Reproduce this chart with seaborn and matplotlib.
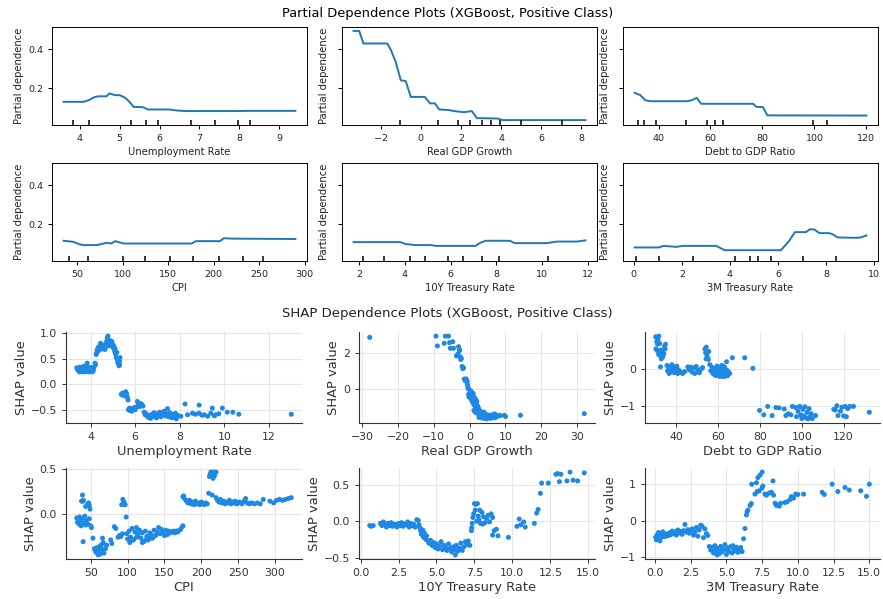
import numpy as np
import pandas as pd
import matplotlib
matplotlib.use("Agg")
import matplotlib.pyplot as plt
import matplotlib.transforms as mtransforms
import seaborn as sns

# ---------------- PDP data ----------------
pdp_features = ["Unemployment Rate", "Real GDP Growth", "Debt to GDP Ratio",
                "CPI", "10Y Treasury Rate", "3M Treasury Rate"]

unemp_x = [3.6, 4.1, 4.23, 4.35, 4.46, 4.67, 4.75, 4.88, 5.0, 5.13, 5.25, 5.35, 5.58, 5.71,
           6.25, 6.42, 6.67, 7.83, 8.25, 9.4]
unemp_y = [0.132, 0.132, 0.140, 0.154, 0.160, 0.160, 0.175, 0.166, 0.166, 0.154, 0.132, 0.106,
           0.105, 0.093, 0.093, 0.088, 0.085, 0.085, 0.086, 0.086]
unemp_dec = [3.835, 4.24, 5.29, 5.67, 5.97, 6.78, 7.39, 7.97, 8.27]

gdp_x = [-3.35, -3.07, -2.86, -1.67, -1.5, -1.25, -1.0, -0.75, -0.5, 0.2, 0.46, 0.71, 0.91,
         1.4, 1.65, 2.15, 2.54, 2.79, 3.82, 4.07, 8.2]
gdp_y = [0.493, 0.493, 0.429, 0.429, 0.398, 0.335, 0.242, 0.237, 0.157, 0.157, 0.124, 0.124,
         0.093, 0.090, 0.085, 0.079, 0.085, 0.049, 0.047, 0.039, 0.039]
gdp_dec = [-1.03, 0.88, 1.83, 2.44, 3.07, 3.51, 3.95, 4.98, 7.05]

debt_x = [30.8, 33.0, 34.9, 36.8, 50.9, 52.8, 54.7, 56.4, 76.4, 77.7, 80.2, 81.9, 120.0]
debt_y = [0.178, 0.166, 0.140, 0.135, 0.135, 0.140, 0.152, 0.122, 0.122, 0.106, 0.105, 0.063, 0.062]
debt_dec = [32.3, 34.6, 39.0, 50.6, 58.8, 61.7, 64.7, 99.6, 104.7]

cpi_x = [35.3, 45.6, 53.6, 57.3, 71.9, 82.9, 87.6, 92.0, 101.0, 175.8, 180.6, 206.9, 211.3,
         219.7, 289.9]
cpi_y = [0.117, 0.112, 0.098, 0.095, 0.095, 0.107, 0.103, 0.115, 0.103, 0.103, 0.115, 0.115,
         0.130, 0.128, 0.126]
cpi_dec = [40.8, 61.6, 101.0, 124.5, 152.5, 177.1, 206.2, 231.8, 254.4]

t10_x = [1.76, 3.82, 4.04, 4.48, 5.13, 5.35, 7.1, 7.27, 7.53, 8.59, 8.81, 10.22, 10.66, 11.53, 11.9]
t10_y = [0.110, 0.110, 0.100, 0.095, 0.095, 0.091, 0.091, 0.105, 0.117, 0.117, 0.105, 0.105,
         0.113, 0.113, 0.119]
t10_dec = [2.17, 3.09, 4.22, 4.88, 5.90, 6.54, 7.36, 8.13, 10.27]

t3_x = [0.03, 1.04, 1.23, 1.76, 2.04, 3.42, 3.56, 3.77, 6.12, 6.47, 6.70, 7.16, 7.33, 7.52,
        7.72, 8.13, 8.27, 8.48, 9.24, 9.45, 9.68]
t3_y = [0.083, 0.083, 0.091, 0.086, 0.091, 0.091, 0.083, 0.069, 0.069, 0.117, 0.161, 0.161,
        0.176, 0.174, 0.156, 0.156, 0.150, 0.134, 0.132, 0.134, 0.144]
t3_dec = [0.1, 1.04, 2.48, 4.21, 4.84, 5.15, 5.71, 7.02, 8.41]

pdp_x = [unemp_x, gdp_x, debt_x, cpi_x, t10_x, t3_x]
pdp_y = [unemp_y, gdp_y, debt_y, cpi_y, t10_y, t3_y]
pdp_dec = [unemp_dec, gdp_dec, debt_dec, cpi_dec, t10_dec, t3_dec]

# ---------------- SHAP data ----------------
shap_unemp_x = [3.38, 3.42, 3.45, 3.48, 3.5, 3.53, 3.55, 3.58, 3.6, 3.62, 3.65, 3.68, 3.7, 3.72,
                3.75, 3.78, 3.8, 3.82, 3.85, 3.85, 3.88, 3.9, 3.92, 3.95, 3.97, 4.0, 4.02, 4.05,
                4.08, 4.1, 4.12, 4.15, 3.5, 3.7, 3.6, 3.9, 4.0,
                4.2, 4.22, 4.25, 4.28, 4.3, 4.35, 4.38, 4.42, 4.45, 4.48, 4.52, 4.55, 4.58, 4.62,
                4.65, 4.68, 4.7, 4.72, 4.75, 4.78, 4.8, 4.82, 4.85, 4.88, 4.9, 4.93, 4.96, 5.0,
                5.02, 5.05, 5.08, 5.1, 5.12, 5.15, 5.18, 5.2, 5.22, 5.25, 5.28, 5.3, 5.32, 5.3,
                5.38, 5.42, 5.45, 5.5, 5.55, 5.58, 5.62, 5.65, 5.68, 5.7, 5.74, 5.78, 5.82, 5.85,
                5.9, 5.95, 6.0, 6.05, 6.1, 6.15, 6.2, 6.25, 6.3, 6.35, 6.4, 6.45, 6.5, 6.55, 6.6,
                6.65, 6.7, 6.75, 6.8, 6.85, 6.9, 6.95, 7.0, 7.05, 7.1, 7.15, 7.2, 7.25, 7.3, 7.35,
                7.4, 7.45, 7.5, 7.55, 7.6, 7.65, 7.7, 7.75, 7.8, 7.85, 7.9, 8.05, 8.24, 8.35, 8.57,
                8.7, 8.87, 8.87, 9.0, 9.1, 9.25, 9.39, 9.46, 9.55, 9.61, 9.75, 9.91, 10.13, 10.38,
                10.65, 13.0]
shap_unemp_y = [0.32, 0.28, 0.30, 0.26, 0.33, 0.29, 0.25, 0.31, 0.27, 0.24, 0.30, 0.33, 0.26, 0.29,
                0.24, 0.31, 0.27, 0.35, 0.41, 0.25, 0.29, 0.32, 0.24, 0.27, 0.30, 0.25, 0.33, 0.28,
                0.24, 0.30, 0.26, 0.32, 0.24, 0.35, 0.33, 0.26, 0.31,
                0.41, 0.38, 0.58, 0.62, 0.68, 0.72, 0.66, 0.75, 0.80, 0.70, 0.73, 0.69, 0.76, 0.72,
                0.68, 0.78, 0.74, 0.84, 0.91, 0.94, 0.87, 0.80, 0.75, 0.82, 0.85, 0.78, 0.83, 0.77,
                0.71, 0.74, 0.64, 0.69, 0.59, 0.52, 0.62, 0.48, 0.42, 0.40, 0.36, 0.45, 0.52, 0.38,
                -0.20, -0.18, -0.22, -0.17, -0.23, -0.15, -0.19, -0.26, -0.31, -0.50, -0.47, -0.52,
                -0.49, -0.53, -0.48, -0.46, -0.50, -0.45, -0.34, -0.41, -0.44, -0.38, -0.40, -0.43,
                -0.55, -0.60, -0.58, -0.63, -0.65, -0.61, -0.67, -0.59, -0.63, -0.56, -0.61, -0.66,
                -0.58, -0.62, -0.55, -0.64, -0.60, -0.57, -0.53, -0.62, -0.58, -0.48, -0.64, -0.56,
                -0.61, -0.66, -0.59, -0.63, -0.57, -0.68, -0.61, -0.63, -0.39, -0.60, -0.57, -0.59,
                -0.57, -0.41, -0.61, -0.60, -0.63, -0.57, -0.47, -0.62, -0.60, -0.58, -0.47, -0.55,
                -0.55, -0.59, -0.59]

shap_gdp_x = [-27.9, -9.4, -9.0, -6.8, -5.9, -7.1, -5.6, -4.7, -5.4, -4.5, -3.1, -2.9, -2.8, -3.7,
              -3.3, -2.6, -2.5, -2.3, -2.1, -1.9, -1.7, -1.5, -1.2, -0.9, -0.7, -1.0, -0.6, -0.5,
              -0.4, -0.3, -0.2, 0.0, 0.2, 0.4, 0.5, 0.6, 0.7, 0.8, 0.9, 1.0, 1.1, 1.2, 1.3, 1.4,
              1.5, 1.6, 1.7, 1.8, 1.9, 2.0, 2.1, 2.2, 2.3, 2.4, 2.5, 2.6, 2.8, 3.0, 3.2, 3.4, 3.6,
              3.8, 4.0, 4.2, 4.4, 4.6, 4.8, 5.0, 5.3, 5.6, 5.9, 6.2, 6.5, 6.8, 7.1, 7.4, 7.7, 8.2,
              8.6, 9.7, 10.0, 14.2, 32.0, 1.2, 2.6, 1.5, 3.0, 4.0, 0.3, 1.0, 2.0, 2.9, 3.5, 5.5,
              6.0, 7.0]
shap_gdp_y = [2.89, 2.96, 2.41, 2.96, 2.96, 2.56, 2.60, 2.65, 2.28, 2.28, 2.37, 2.20, 2.15, 1.85,
              1.95, 1.80, 1.65, 1.70, 1.26, 1.13, 1.18, 0.55, 0.45, 0.50, 0.43, 0.56, 0.24, 0.10,
              0.00, -0.30, -0.45, -0.35, -0.50, -0.22, -0.60, -0.40, -0.70, -0.30, -0.55, -0.80,
              -0.45, -0.65, -0.90, -0.50, -0.75, -1.00, -0.60, -0.85, -1.10, -0.70, -1.20, -0.95,
              -1.30, -1.05, -1.40, -1.15, -1.50, -1.25, -1.60, -1.35, -1.55, -1.45, -1.65, -1.40,
              -1.60, -1.50, -1.68, -1.45, -1.60, -1.50, -1.65, -1.45, -1.58, -1.50, -1.62, -1.48,
              -1.55, -1.50, -1.50, -1.48, -1.55, -1.48, -1.39, -1.20, -1.60, -1.30, -1.55, -1.30,
              -0.10, -0.25, -1.35, -1.45, -1.62, -1.55, -1.58, -1.40]

shap_debt_x = [30.1, 31.6, 31.2, 30.6, 32.0, 31.0, 30.2, 30.9, 31.8, 32.5, 33.2, 34.0, 34.6, 34.3,
               34.8, 32.2, 33.5, 32.8, 31.5, 32.4,
               35.5, 35.8, 36.2, 36.5, 37.0, 37.3, 37.8, 38.2, 38.6, 39.0, 39.4, 39.8, 40.2, 40.6,
               41.0, 41.5, 42.0, 43.0, 44.0,
               45.5, 46.2, 47.0, 47.5, 48.2, 48.8, 49.5, 50.2, 51.0, 51.8, 52.5,
               53.7, 54.0, 54.3, 54.6, 55.0, 55.3, 54.2, 55.5, 56.0,
               56.5, 57.0, 57.5, 58.0, 58.5, 59.0, 59.5, 60.0, 60.5, 61.0, 61.5, 62.0, 62.5, 63.0,
               63.5, 64.0, 64.5, 65.0, 65.5, 58.2, 60.8, 63.2, 61.8, 64.0, 66.8, 72.7, 76.6,
               79.8, 81.8, 83.7, 85.8, 87.6, 89.2, 91.6, 92.4, 93.5, 94.8, 95.5, 97.0, 97.5, 98.2,
               99.0, 99.5, 100.0, 100.5, 101.0, 101.5, 102.0, 102.5, 103.0, 103.5, 104.0, 104.5,
               105.0, 106.6, 115.3, 116.0, 116.8, 117.3, 118.5, 119.2, 120.0, 120.8, 121.3, 122.0,
               123.0, 124.7, 132.3]
shap_debt_y = [0.88, 0.90, 0.80, 0.75, 0.70, 0.68, 0.55, 0.50, 0.45, 0.52, 0.48, 0.42, 0.55, 0.62,
               0.68, 0.37, 0.33, 0.28, 0.40, 0.06,
               0.10, -0.05, 0.05, -0.12, 0.02, -0.08, 0.12, -0.03, 0.06, -0.10, 0.00, -0.06, 0.08,
               -0.12, -0.02, -0.10, -0.08, -0.12, -0.07,
               0.06, -0.02, 0.05, -0.08, 0.03, -0.12, 0.07, -0.03, -0.10, 0.00, 0.04,
               0.55, 0.45, 0.60, 0.38, 0.30, 0.26, 0.28, 0.48, 0.12,
               -0.05, 0.05, -0.12, 0.02, -0.08, -0.18, 0.08, -0.03, -0.15, 0.04, -0.10, -0.20,
               -0.05, 0.06, -0.14, -0.02, -0.18, -0.08, -0.12, -0.15, -0.20, -0.20, 0.10, 0.20,
               0.31, 0.31, 0.02,
               -1.13, -1.25, -1.02, -1.27, -1.05, -1.06, -1.09, -1.27, -1.22, -1.25, -1.02, -1.05,
               -1.30, -1.15, -1.02, -1.25, -1.35, -1.10, -1.28, -1.03, -1.33, -1.18, -1.36, -1.08,
               -1.30, -1.22, -1.35, -1.27, -1.10, -1.12, -1.00, -1.27, -1.15, -1.04, -1.28, -1.02,
               -1.30, -1.08, -1.02, -1.02, -1.18]

shap_cpi_x = [31, 32, 33, 34, 35, 36, 37, 38, 41, 42, 43, 44, 46, 48, 50, 51,
              38.8, 39.5, 40.1, 37.5, 47, 49, 48, 43, 45.5, 39.7,
              53, 55, 56.5, 58, 59.5, 61, 62.5, 64, 65.5, 67, 68, 60, 57, 63, 70, 71.5, 66,
              77, 78.5, 82, 84, 87, 89, 91, 93,
              93.5, 95, 96.7, 92, 98, 99, 100,
              102, 104, 106, 108, 110, 112, 114, 116, 118, 120, 122, 124, 126, 128, 130, 132, 134,
              136, 138, 140, 142, 144, 146, 148, 150, 152, 154, 156, 158, 160, 162, 164, 166, 168,
              170, 172, 174, 175, 103, 107, 112, 120, 125, 131,
              175, 176, 178, 180, 182, 184, 186, 188, 190, 192, 194, 196, 198, 200, 202, 204, 206,
              208, 210, 214.7,
              211, 212, 213, 214, 215, 216, 217, 218, 220,
              220, 222, 224, 226, 228, 230, 232, 234, 236, 238, 240, 242, 244, 246, 248, 250, 252,
              255, 258, 260, 262, 265, 268, 272, 276, 280, 284, 293, 298, 302, 306, 310, 314, 318,
              322]
shap_cpi_y = [-0.05, -0.10, -0.07, -0.12, -0.04, -0.09, -0.14, -0.06, -0.11, -0.03, -0.13, -0.08,
              -0.12, -0.06, -0.14, -0.16,
              0.21, 0.14, 0.15, 0.14, 0.12, 0.05, 0.09, 0.08, 0.10, -0.32,
              -0.28, -0.40, -0.42, -0.39, -0.43, -0.40, -0.37, -0.36, -0.41, -0.33, -0.45, -0.47,
              -0.44, -0.46, -0.40, -0.36, -0.28,
              -0.30, -0.34, -0.15, -0.17, -0.27, -0.25, -0.26, -0.23,
              0.16, 0.13, 0.10, 0.10, -0.04, -0.23, -0.29,
              -0.20, -0.27, -0.17, -0.30, -0.21, -0.16, -0.24, -0.19, -0.28, -0.22, -0.32, -0.20,
              -0.26, -0.30, -0.22, -0.24, -0.28, -0.19, -0.25, -0.21, -0.16, -0.23, -0.18, -0.22,
              -0.25, -0.19, -0.24, -0.20, -0.22, -0.21, -0.20, -0.22, -0.20, -0.21, -0.19, -0.18,
              -0.15, -0.14, -0.33, -0.30, -0.27, -0.33, -0.30, -0.28,
              0.19, 0.20, 0.16, 0.14, 0.12, 0.15, 0.11, 0.13, 0.10, 0.14, 0.11, 0.12, 0.10, 0.13,
              0.11, 0.10, 0.12, 0.11, 0.23, 0.21,
              0.42, 0.45, 0.47, 0.44, 0.46, 0.40, 0.47, 0.43, 0.47,
              0.18, 0.15, 0.13, 0.16, 0.12, 0.14, 0.11, 0.13, 0.12, 0.15, 0.11, 0.13, 0.12, 0.14,
              0.11, 0.12, 0.13, 0.11, 0.14, 0.17, 0.12, 0.11, 0.12, 0.11, 0.12, 0.11, 0.16, 0.14,
              0.12, 0.15, 0.16, 0.15, 0.16, 0.17, 0.18]

shap_t10_x = [0.6, 0.7, 0.83,
              1.3, 1.4, 1.5, 1.6, 1.7, 1.8, 1.9, 2.0, 2.1, 2.2, 2.3, 2.4, 2.5, 2.6, 2.7, 2.8, 2.9,
              3.0, 3.1, 3.2, 3.3, 3.4, 3.5, 3.6, 3.7, 3.8, 3.85, 3.9,
              3.95, 4.0, 4.1, 4.15, 4.2, 4.3, 4.35, 4.45,
              4.5, 4.6, 4.7, 4.8, 4.9, 5.0, 5.1, 5.2, 5.3, 5.4, 5.5, 5.6, 5.7, 5.8, 5.9, 6.0, 6.1,
              6.2, 6.24, 6.3, 6.4, 6.5, 6.6, 6.7, 6.8, 6.9, 7.0, 7.1, 7.2,
              7.3, 7.32, 7.35, 7.4, 7.45, 7.5, 7.6, 7.7, 7.8, 7.9, 8.0, 8.1, 8.2, 8.3, 8.4, 8.5,
              8.6, 8.7, 7.55, 7.65, 7.75, 7.85, 8.05,
              8.7, 8.8, 8.95, 9.05, 9.74,
              10.3, 10.45, 10.55, 10.75, 10.85,
              11.45, 11.6, 11.7, 11.85, 11.93, 12.37, 12.87, 12.98, 13.2, 13.1, 13.8, 13.6, 14.0,
              14.3, 14.74]
shap_t10_y = [-0.06, -0.07, -0.06,
              -0.03, -0.06, -0.01, -0.05, -0.08, -0.03, -0.06, -0.02, -0.07, -0.04, -0.05, -0.08,
              -0.03, -0.06, -0.02, -0.07, -0.04, -0.05, -0.01, -0.08, -0.03, -0.06, -0.04, -0.08,
              0.02, 0.01, -0.05, -0.09,
              -0.13, -0.18, -0.12, -0.22, -0.16, -0.25, -0.20, -0.27,
              -0.30, -0.26, -0.33, -0.29, -0.36, -0.31, -0.38, -0.34, -0.28, -0.39, -0.33, -0.36,
              -0.40, -0.31, -0.37, -0.42, -0.35, -0.39, -0.46, -0.33, -0.41, -0.37, -0.30, -0.40,
              -0.35, -0.28, -0.32, -0.27, -0.33,
              -0.13, -0.09, -0.03, 0.05, 0.10, 0.24, 0.23, 0.24, 0.02, -0.03, 0.12, 0.06, -0.02,
              0.04, 0.08, -0.01, 0.10, 0.05, 0.15, 0.00, 0.07, 0.15, -0.04,
              -0.19, -0.13, -0.11, -0.20, -0.22,
              -0.07, 0.03, -0.05, -0.01, -0.08,
              -0.03, 0.11, 0.16, 0.38, 0.52, 0.52, 0.64, 0.65, 0.64, 0.54, 0.67, 0.55, 0.56, 0.55,
              0.66]

shap_t3_x = [0.05, 0.1, 0.15, 0.2, 0.25, 0.3, 0.35, 0.4, 0.5, 0.55, 0.6,
             0.7, 0.8, 0.9, 1.0, 1.1, 1.2, 1.3, 1.4, 1.5, 1.6, 1.7, 1.8, 1.9, 2.0, 2.1, 2.2, 2.3,
             2.4, 2.5, 2.6, 2.7, 2.8, 2.9, 3.0, 3.1, 3.2, 3.3, 3.4, 3.5, 3.6, 3.7,
             3.8, 3.9, 4.0, 4.1, 4.2, 4.3, 4.4, 4.5, 4.6, 4.7, 4.8, 4.9, 5.0, 5.1, 5.2, 5.3, 5.4,
             5.5, 5.6, 5.7, 5.8, 5.9, 6.0, 6.1, 4.15, 4.65, 5.05, 5.45, 4.35,
             6.2, 6.3, 6.4, 6.45, 6.5, 6.65, 6.75, 6.77, 7.1, 7.2, 7.35, 7.5, 7.0, 7.15, 7.3, 7.5,
             7.55, 7.7, 7.8, 8.0, 8.15, 8.3, 8.26, 8.4, 8.5, 8.6, 8.7, 8.8, 9.1, 9.25, 9.45, 9.55,
             9.7, 9.85, 10.0, 10.4, 11.7, 11.85, 12.4, 12.8, 13.3, 13.6, 14.4, 14.8, 15.0]
shap_t3_y = [-0.45, -0.52, -0.38, -0.48, -0.32, -0.42, -0.55, -0.35, -0.44, -0.30, -0.40,
             -0.43, -0.36, -0.41, -0.33, -0.38, -0.28, -0.35, -0.30, -0.39, -0.25, -0.33, -0.29,
             -0.37, -0.27, -0.10, -0.31, -0.24, -0.34, -0.28, -0.22, -0.39, -0.30, -0.18, -0.42,
             -0.25, -0.12, -0.15, -0.46, -0.22, -0.35, -0.40,
             -0.70, -0.80, -0.72, -0.88, -0.68, -0.82, -0.75, -0.90, -0.70, -0.85, -0.78, -0.65,
             -0.92, -0.74, -0.84, -0.70, -0.88, -0.76, -0.82, -0.72, -0.86, -0.78, -0.73, -0.84,
             -0.78, -0.80, -0.80, -0.68, -0.93,
             -0.49, -0.21, 0.16, 0.25, 0.29, 0.42, 0.47, 1.00, 1.04, 1.18, 1.25, 1.33, 0.73, 0.80,
             0.82, 0.90, 0.95, 0.73, 0.70, 0.76, 0.78, 0.70, 1.09, 0.48, 0.42, 0.44, 0.40, 0.48,
             0.50, 0.52, 0.58, 0.66, 0.62, 0.73, 0.72, 0.73, 0.78, 0.72, 1.00, 0.80, 0.91, 0.84,
             0.82, 0.67, 1.00]

shap_x = [shap_unemp_x, shap_gdp_x, shap_debt_x, shap_cpi_x, shap_t10_x, shap_t3_x]
shap_y = [shap_unemp_y, shap_gdp_y, shap_debt_y, shap_cpi_y, shap_t10_y, shap_t3_y]

pdp_xticks = [[4, 5, 6, 7, 8, 9], [-2, 0, 2, 4, 6, 8], [40, 60, 80, 100, 120],
              [50, 100, 150, 200, 250, 300], [2, 4, 6, 8, 10, 12], [0, 2, 4, 6, 8, 10]]
pdp_yticks = [0.2, 0.4]
pdp_yticklabels = ["0.2", "0.4"]
shap_xticks = [[4, 6, 8, 10, 12], [-30, -20, -10, 0, 10, 20, 30], [40, 60, 80, 100, 120],
               [50, 100, 150, 200, 250, 300], [0.0, 2.5, 5.0, 7.5, 10.0, 12.5, 15.0],
               [0.0, 2.5, 5.0, 7.5, 10.0, 12.5, 15.0]]
shap_yticks = [[-0.5, 0.0, 0.5, 1.0], [0, 2], [-1, 0], [0.0, 0.5], [-0.5, 0.0, 0.5], [-1, 0, 1]]

pdp_title = "Partial Dependence Plots (XGBoost, Positive Class)"
shap_title = "SHAP Dependence Plots (XGBoost, Positive Class)"

# ---------------- layout ----------------
W, H = 883, 599
plt.rcParams['font.family'] = ['DejaVu Sans']
fig = plt.figure(figsize=(W / 100, H / 100), dpi=100)


def rect(l, t, r, b):
    return [l / W, 1 - b / H, (r - l) / W, (b - t) / H]


pdp_cols = [(52, 307), (342, 597), (623, 878)]
pdp_rows = [(27, 125), (163, 261)]
shap_cols = [(66, 302), (359, 595), (645, 880)]
shap_rows = [(332, 423), (468, 559)]

PDP_COLOR = "#1f77b4"
SHAP_COLOR = "#1E88E5"
GRAY = "#333333"

for i in range(6):
    r, c = divmod(i, 3)
    l, rr = pdp_cols[c]
    t, b = pdp_rows[r]
    ax = fig.add_axes(rect(l, t, rr, b))
    sns.lineplot(x=pdp_x[i], y=pdp_y[i], ax=ax, color=PDP_COLOR, linewidth=1.4,
                 estimator=None, sort=False)
    trans = mtransforms.blended_transform_factory(ax.transData, ax.transAxes)
    ax.vlines(pdp_dec[i], 0, 0.055, transform=trans, color="k", linewidth=1.1)
    ax.set_ylim(0.014, 0.513)
    ax.set_xticks(pdp_xticks[i])
    ax.set_yticks(pdp_yticks)
    if c == 0:
        ax.set_yticklabels(pdp_yticklabels)
    else:
        ax.set_yticklabels([])
    ax.tick_params(labelsize=6.8, length=3, width=0.7, labelcolor="#222222")
    ax.set_xlabel(pdp_features[i], fontsize=7.2, labelpad=3, color="#222222")
    ax.set_ylabel("Partial dependence", fontsize=7.2, labelpad=3, color="#222222")
    for s in ax.spines.values():
        s.set_linewidth(0.7)

for i in range(6):
    r, c = divmod(i, 3)
    l, rr = shap_cols[c]
    t, b = shap_rows[r]
    ax = fig.add_axes(rect(l, t, rr, b))
    ax.set_axisbelow(True)
    ax.grid(True, color="#e6e6e6", linewidth=0.8)
    sns.scatterplot(x=shap_x[i], y=shap_y[i], ax=ax, color=SHAP_COLOR, s=13,
                    linewidth=0, edgecolor="none")
    ax.set_xticks(shap_xticks[i])
    ax.set_yticks(shap_yticks[i])
    ax.spines["top"].set_visible(False)
    ax.spines["right"].set_visible(False)
    for s in ("left", "bottom"):
        ax.spines[s].set_color(GRAY)
        ax.spines[s].set_linewidth(0.8)
    ax.tick_params(labelsize=7.8, labelcolor=GRAY, color=GRAY, length=3, width=0.7)
    ax.set_xlabel(pdp_features[i], fontsize=9.4, color=GRAY, labelpad=2)
    ax.set_ylabel("SHAP value", fontsize=9.4, color=GRAY, labelpad=2)

fig.text(448 / W, 1 - 13 / H, pdp_title, ha="center", va="center", fontsize=9.4)
fig.text(447 / W, 1 - 314 / H, shap_title, ha="center", va="center", fontsize=9.5,
         color="#222222")

fig.savefig("out.png", dpi=100)
